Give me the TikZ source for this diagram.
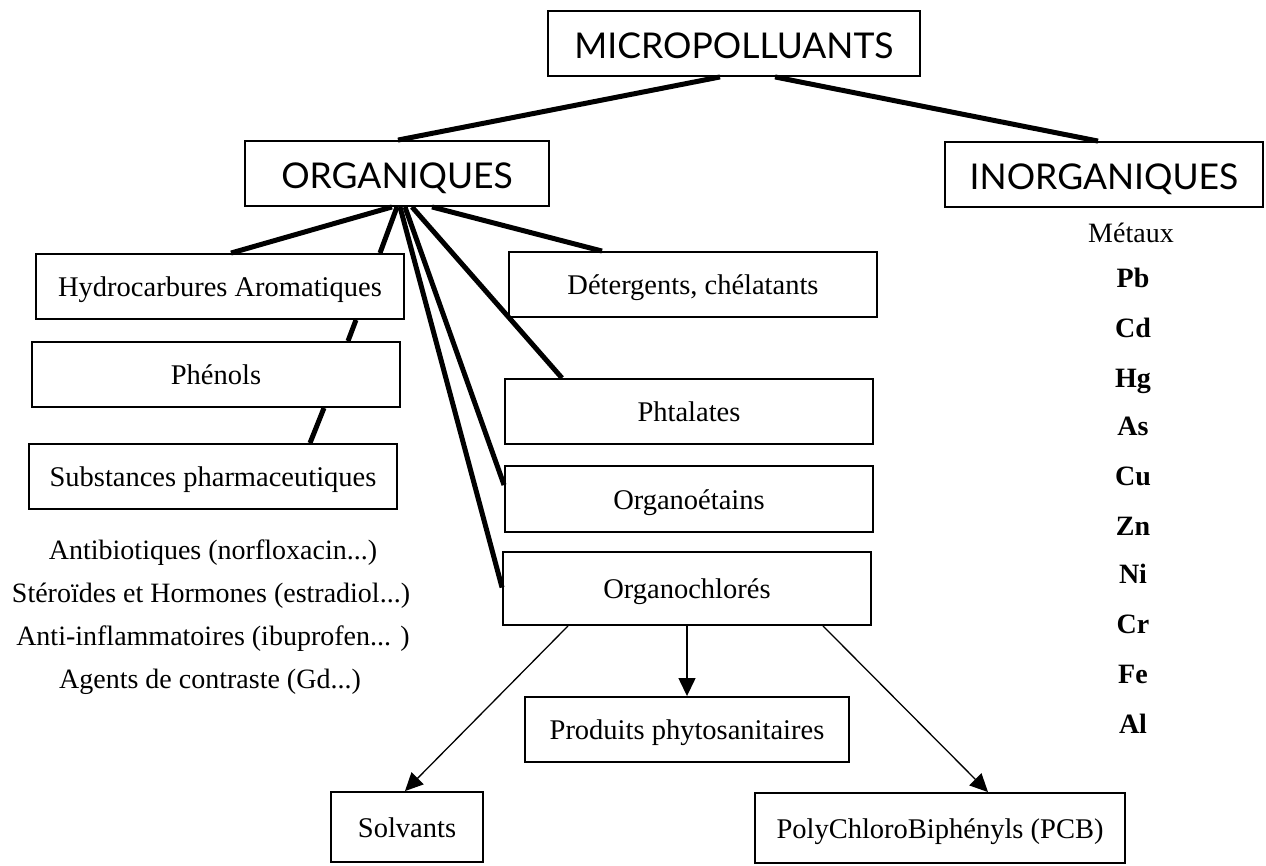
\documentclass[tikz,border=0pt]{standalone}
\usepackage{fontspec}
\setmainfont{Liberation Serif}
\newfontfamily\headfont{Lato}
\usetikzlibrary{arrows.meta}
\begin{document}
\begin{tikzpicture}[x=1pt,y=-1pt,
  box/.style={draw, line width=1.9pt, fill=white, inner sep=0pt, minimum height=65pt, text height=22pt, text depth=2pt, font=\fontsize{28.5}{32}\selectfont},
  head/.style={draw, line width=1.9pt, fill=white, inner sep=0pt, minimum height=65pt, text height=31pt, text depth=1pt, font=\headfont\fontsize{35.5}{40}\selectfont},
  lbl/.style={inner sep=0pt, text height=22pt, text depth=2pt, font=\fontsize{28}{32}\selectfont},
  metal/.style={inner sep=0pt, text height=22pt, text depth=2pt, font=\bfseries\fontsize{28}{32}\selectfont},
  thickline/.style={line width=5pt},
  arr/.style={line width=1.3pt, -{Triangle[length=18pt,width=17pt]}}]
\useasboundingbox (0,0) rectangle (1266,865);

\node[head, minimum width=372pt] (micro) at (734,43.5) {MICROPOLLUANTS};
\node[head, minimum width=304pt] (org) at (397,173.5) {ORGANIQUES};
\node[head, minimum width=318pt] (inorg) at (1104,174.5) {INORGANIQUES};

\node[box, minimum width=368pt] (hydro) at (220,286.5) {Hydrocarbures Aromatiques};
\node[box, minimum width=368pt] (phen) at (216,374.5) {Phénols};
\node[box, minimum width=368pt] (subst) at (213,476.5) {Substances pharmaceutiques};

\node[box, minimum width=368pt] (det) at (693,284.5) {Détergents, chélatants};
\node[box, minimum width=368pt] (phtal) at (689,411.5) {Phtalates};
\node[box, minimum width=368pt, minimum height=66pt] (orget) at (689,499) {Organoétains};
\node[box, minimum width=368pt, minimum height=73pt] (orgcl) at (687,588.5) {Organochlorés};
\node[box, minimum width=324pt] (prod) at (687,729.5) {Produits phytosanitaires};
\node[box, minimum width=152pt, minimum height=70pt] (solv) at (407,827) {Solvants};
\node[box, minimum width=370pt, minimum height=70pt] (pcb) at (940,828) {PolyChloroBiphényls (PCB)};

\node[lbl] (antib) at (213,549) {Antibiotiques (norfloxacin...)};
\node[lbl] (stero) at (211,592) {Stéroïdes et Hormones (estradiol...)};
\node[lbl] (anti) at (213,635) {Anti-inflammatoires (ibuprofen... )};
\node[lbl] (agents) at (210,678) {Agents de contraste (Gd...)};

\node[lbl] (metaux) at (1131,232) {Métaux};
\node[metal] (pb) at (1133,277) {Pb};
\node[metal] (cd) at (1133,327) {Cd};
\node[metal] (hg) at (1133,377) {Hg};
\node[metal] (as) at (1133,425) {As};
\node[metal] (cu) at (1133,475) {Cu};
\node[metal] (zn) at (1133,525) {Zn};
\node[metal] (ni) at (1133,573) {Ni};
\node[metal] (cr) at (1133,623) {Cr};
\node[metal] (fe) at (1133,673) {Fe};
\node[metal] (al) at (1133,723) {Al};

\draw[thickline] ([xshift=-14pt]micro.south) -- ([xshift=1pt]org.north);
\draw[thickline] ([xshift=41pt]micro.south) -- ([xshift=-6pt]inorg.north);
\draw[thickline] ([xshift=-5pt]org.south) -- ([xshift=11pt]hydro.north);
\draw[thickline] ([xshift=0pt]org.south) -- ([xshift=160pt]hydro.north);
\draw[thickline] ([xshift=136pt]hydro.south) -- ([xshift=132pt]phen.north);
\draw[thickline] ([xshift=108pt]phen.south) -- ([xshift=97pt]subst.north);
\draw[thickline] ([xshift=35pt]org.south) -- ([xshift=-91pt]det.north);
\draw[thickline] ([xshift=15pt]org.south) -- ([xshift=-127pt]phtal.north);
\draw[thickline] ([xshift=8pt]org.south) -- ([yshift=14pt]orget.west);
\draw[thickline] ([xshift=3pt]org.south) -- ([yshift=1pt]orgcl.west);

\draw[arr] ([xshift=-119pt]orgcl.south) -- ([xshift=-2pt]solv.north);
\draw[arr] (orgcl.south) -- (prod.north);
\draw[arr] ([xshift=136pt]orgcl.south) -- ([xshift=48pt]pcb.north);
\end{tikzpicture}
\end{document}
